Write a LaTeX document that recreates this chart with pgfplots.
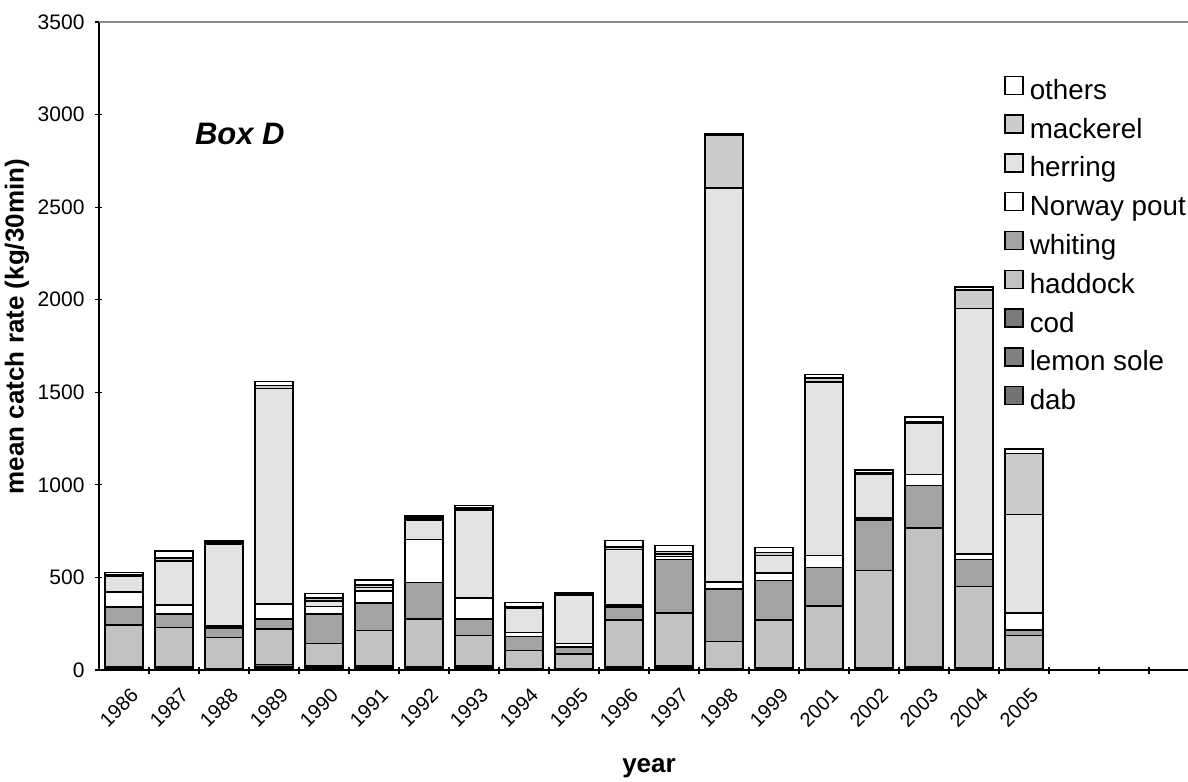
\documentclass[border=0pt]{standalone}
\usepackage{fontspec}
\setmainfont{Liberation Sans}
\usepackage{pgfplots}
\usepackage{pgfplotstable}
\pgfplotsset{compat=1.18}

% catch per species and year (kg/30min), stacked bottom to top
\pgfplotstableread{
x  dab lemon cod haddock whiting pout herring mackerel others
0  6   4     8   226     95      82   88      5        13
1  5   4     6   214     72      51   238     15       38
2  3   2     4   166     51      12   444     8        10
3  10  8     12  190     56      81   1163    16       22
4  8   4     8   124     159     40   31      14       25
5  10  6     9   188     148     67   18      14       26
6  5   4     6   261     197     231  105     12       11
7  8   7     10  161     90      112  475     12       13
8  2   1     2   100     76      21   134     4        25
9  2   1     2   80      38      21   260     8        7
10 6   4     8   253     68      11   300     14       36
11 7   5     8   287     289     18   11      15       32
12 3   1     3   146     284     38   2127    288      7
13 4   3     5   259     213     39   96      16       26
14 3   2     3   339     207     65   937     21       20
15 3   3     4   528     271     12   235     9        14
16 5   4     6   752     229     60   279     7        26
17 3   3     4   441     145     32   1325    101      16
18 3   2     3   178     29      92   532     330      26
}\catch

\begin{document}
\begin{tikzpicture}
\path[use as bounding box] (-49.5bp,-56bp) rectangle (544.5bp,335bp);
\begin{axis}[
    at={(0pt,0pt)}, anchor=south west,
    width=550bp, height=324bp, scale only axis,
    ybar stacked, bar width=0.76,
    xmin=-0.5, xmax=21.5,
    ymin=0, ymax=3500,
    ytick={0,500,...,3500},
    xtick={0,...,18},
    xticklabels={1986,1987,1988,1989,1990,1991,1992,1993,1994,1995,1996,1997,1998,1999,2001,2002,2003,2004,2005},
    minor xtick={0.5,1.5,...,21.5},
    major x tick style={draw=none},
    minor x tick style={black, line width=0.6bp},
    y tick style={black, line width=0.6bp},
    major tick length=3.5bp, minor tick length=3.5bp,
    tick align=outside,
    axis x line=bottom, axis y line=left,
    axis line style={-, black, line width=0.7bp},
    /pgf/number format/assume math mode=true,
    /pgf/number format/1000 sep={},
    yticklabel style={font=\fontsize{10.5bp}{12bp}\selectfont, xshift=-2bp},
    xticklabel style={font=\fontsize{10bp}{12bp}\selectfont, rotate=45, anchor=north east, inner sep=0pt, xshift=-2.5bp, yshift=-6.5bp},
    xlabel={\textbf{year}},
    ylabel={\textbf{mean catch rate (kg/30min)}},
    label style={font=\fontsize{13bp}{15bp}\selectfont},
    xlabel style={at={(axis description cs:0.5,-0.151)}, anchor=center},
    ylabel style={at={(axis description cs:-0.0745,0.53)}, anchor=center},
    every axis plot/.append style={draw=black, line width=0.8bp},
    reverse legend,
    legend cell align=left,
    legend style={draw=none, fill=none, inner sep=0pt,
        at={(0.8227,0.918)}, anchor=north west,
        font=\fontsize{13.9bp}{16bp}\selectfont,
        row sep=4.5bp,
        nodes={inner sep=0pt, text height=10.5bp, text depth=3bp},
        /tikz/every odd column/.append style={column sep=3bp}},
    legend image code/.code={\draw[#1, line width=0.7bp] (0bp,-1.2bp) rectangle (9bp,7.8bp);},
]
\addplot[fill=black!55] table[x=x, y=dab] {\catch};
\addlegendentry{dab}
\addplot[fill=black!50] table[x=x, y=lemon] {\catch};
\addlegendentry{lemon sole}
\addplot[fill=black!52] table[x=x, y=cod] {\catch};
\addlegendentry{cod}
\addplot[fill=black!24] table[x=x, y=haddock] {\catch};
\addlegendentry{haddock}
\addplot[fill=black!36] table[x=x, y=whiting] {\catch};
\addlegendentry{whiting}
\addplot[fill=white] table[x=x, y=pout] {\catch};
\addlegendentry{Norway pout}
\addplot[fill=black!11] table[x=x, y=herring] {\catch};
\addlegendentry{herring}
\addplot[fill=black!20] table[x=x, y=mackerel] {\catch};
\addlegendentry{mackerel}
\addplot[fill=white] table[x=x, y=others] {\catch};
\addlegendentry{others}
\draw[black!45, line width=0.6bp] (rel axis cs:0,1) -- (rel axis cs:1,1);
\node[font=\fontsize{15.5bp}{18bp}\selectfont\bfseries\itshape] at (rel axis cs:0.128,0.827) {Box D};
\end{axis}
\end{tikzpicture}
\end{document}
